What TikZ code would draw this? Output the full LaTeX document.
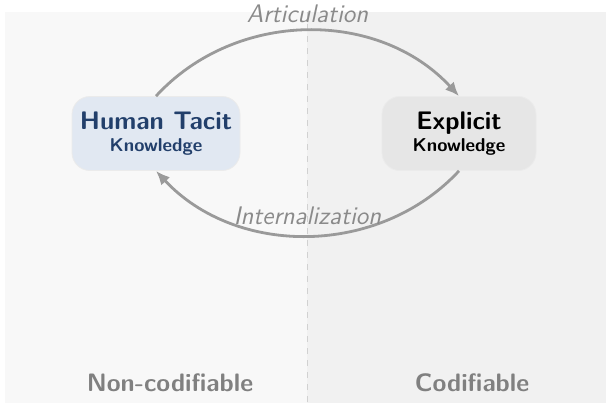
\documentclass[tikz,border=0pt]{standalone}
\usetikzlibrary{arrows.meta, positioning}

\definecolor{leftpanel}{HTML}{F8F8F8}
\definecolor{rightpanel}{HTML}{F1F1F1}
\definecolor{tacitfill}{HTML}{E1E8F2}
\definecolor{tacittext}{HTML}{223F6B}
\definecolor{explicitfill}{HTML}{E6E6E6}
\definecolor{flowgray}{HTML}{9A9A9A}
\definecolor{labelgray}{HTML}{8A8A8A}
\definecolor{sidegray}{HTML}{808080}

\begin{document}
\begin{tikzpicture}[x=0.5pt, y=-0.5pt, >=Latex,
    knowbox/.style={rounded corners=9pt, minimum width=84pt, minimum height=37pt, align=center, inner sep=0pt, font=\sffamily\bfseries},
    flow/.style={->, draw=flowgray, line width=1.4pt, -{Latex[length=7pt, width=6pt]}},
    flowlabel/.style={font=\sffamily\itshape\fontsize{12.7}{14}\selectfont, text=labelgray, inner sep=0pt},
    sidelabel/.style={font=\sffamily\bfseries\fontsize{12.6}{14}\selectfont, text=sidegray}]

        % Panels
        \useasboundingbox (0,0) rectangle (606,403);
        \fill[leftpanel] (5,12) rectangle (307,403);
        \fill[rightpanel] (307,12) rectangle (606,403);
        \draw[dashed, draw=black!18, line width=0.5pt] (307,12) -- (307,403);

        % Nodes
        \node[knowbox, fill=tacitfill, draw=black!8, text=tacittext, minimum width=84pt] (tacit) at (156,133.5)
            {{\fontsize{12.7}{14}\selectfont Human Tacit}\\[-1pt]{\fontsize{9.3}{11}\selectfont Knowledge}};
        \node[knowbox, fill=explicitfill, draw=black!8, text=black, minimum width=77pt] (explicit) at (459,133.5)
            {{\fontsize{12.7}{14}\selectfont Explicit}\\[-1pt]{\fontsize{9.3}{11}\selectfont Knowledge}};

        \node[sidelabel] (noncod) at (170,383) {Non-codifiable};
        \node[sidelabel] (cod) at (472,383) {Codifiable};

        % Arrows
        \draw[flow] (tacit.north) .. controls +(80,-87) and +(-80,-87) .. node[flowlabel, above=3.5pt] {Articulation} (explicit.north);
        \draw[flow] (explicit.south) .. controls +(-80,86) and +(80,86) .. node[flowlabel, above=4.5pt] {Internalization} (tacit.south);

\end{tikzpicture}
\end{document}
